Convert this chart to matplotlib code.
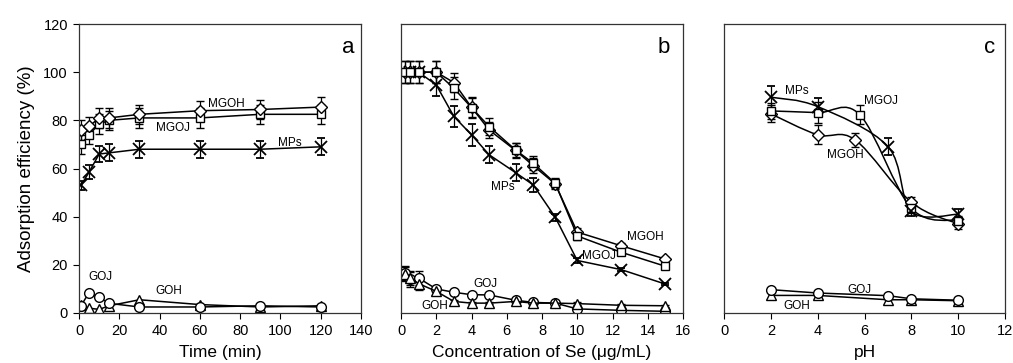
import numpy as np
import matplotlib
matplotlib.use("Agg")
import matplotlib.pyplot as plt
from matplotlib.path import Path
from matplotlib.patches import PathPatch

plt.rcParams['font.family'] = ['Liberation Sans', 'DejaVu Sans']

# ---- panel a: time ----
t_min = [1, 5, 10, 15, 30, 60, 90, 120]
a_mgoh = [76, 77.5, 81, 81, 82.5, 84, 84.5, 85.5]
a_mgoh_err = [4, 4, 4, 4, 4, 4, 4, 4]
a_mgoj = [70, 74, 78.5, 80, 81, 81, 82.5, 82.5]
a_mgoj_err = [4, 4, 4, 4, 4, 4, 4, 4]
a_mps = [53, 58.5, 66, 66.5, 68, 68, 68, 69]
a_mps_err = [2, 3, 3.5, 3.5, 3.5, 3.5, 3.5, 3.5]
a_goj = [3, 8.5, 6.5, 4, 2.5, 2.5, 3, 2.5]
a_goh = [3.5, 2, 1.5, 3, 5.5, 3.5, 2.5, 3]

# ---- panel b: Se concentration ----
conc = [0.2, 0.5, 1, 2, 3, 4, 5, 6.5, 7.5, 8.75, 10, 12.5, 15]
b_mgoh = [100, 100, 100, 100, 95.7, 85.4, 76, 67.5, 61.2, 53.6, 33.6, 27.9, 22.4]
b_mgoh_err = [4.7, 4.7, 4.7, 4.7, 4, 4, 3.5, 3, 3, 2, 1.5, 1, 1]
b_mgoj = [100, 100, 100, 100, 93.3, 85.3, 77.4, 67.7, 62.2, 53.9, 32, 25.2, 19.4]
b_mgoj_err = [4.7, 4.7, 4.7, 4.7, 4.5, 4.5, 3.5, 3, 3, 2, 1.5, 1, 1]
b_mps = [100, 100, 100, 94.7, 81.6, 74, 65.7, 58.3, 53.2, 39.8, 21.8, 18, 12]
b_mps_err = [0, 0, 0, 4.5, 4.5, 4.5, 3.5, 3.5, 3, 1.5, 1, 0.5, 0.5]
b_goj = [16.5, 14, 14.5, 10, 8.6, 7.6, 7.5, 5.3, 4.4, 4.1, 1.7, 1.1, 0.7]
b_goj_err = [3, 3, 3, 1, 1, 0.5, 0.5, 0.5, 0.5, 0.5, 0.5, 0.5, 0.5]
b_goh = [16.3, 14.5, 12.2, 9, 4.8, 4.1, 4.1, 4.8, 4.1, 4.1, 3.9, 3.2, 3]
b_goh_err = [3, 3, 2.5, 1, 0.5, 0.5, 0.5, 0.5, 0.5, 0.5, 0.5, 0.5, 0.5]

# ---- panel c: pH ----
c_mps_x = [2, 4, 7, 8, 10]
c_mps = [89.6, 85.7, 69.1, 42.2, 41]
c_mps_err = [4.7, 3.5, 3.5, 2, 2]
c_mgoj_x = [2, 4, 5.8, 8, 10]
c_mgoj = [83.9, 83.2, 82.3, 43.5, 38.4]
c_mgoj_err = [3.5, 4.5, 4, 2, 2]
c_mgoh_x = [2, 4, 5.6, 8, 10]
c_mgoh = [82.7, 74, 71.9, 46, 37]
c_mgoh_err = [3.5, 4, 3, 2, 2]
c_go_x = [2, 4, 7, 8, 10]
c_goj = [9.7, 8.3, 7.2, 5.9, 5.3]
c_goh = [7.3, 7.3, 5.5, 5.5, 5.1]

MK = dict(mfc="white", mec="black", color="black", lw=1.1, mew=1.0,
          ecolor="black", elinewidth=0.9, capsize=3, capthick=0.9)
NOTE = dict(fontsize=8.5, ha="center", va="center")


def series(ax, x, y, err, marker, ms, line=True, **kw):
    style = dict(MK)
    style.update(kw)
    if not line:
        style["ls"] = "none"
    ax.errorbar(x, y, yerr=err, marker=marker, ms=ms, **style)


def smooth(ax, x, y):
    # Catmull-Rom curve through the points, drawn as bezier path
    pts = np.column_stack([x, y]).astype(float)
    verts = [pts[0]]
    codes = [Path.MOVETO]
    n = len(pts)
    for i in range(n - 1):
        p0 = pts[i - 1] if i > 0 else pts[i]
        p1, p2 = pts[i], pts[i + 1]
        p3 = pts[i + 2] if i + 2 < n else p2
        verts += [p1 + (p2 - p0) / 6, p2 - (p3 - p1) / 6, p2]
        codes += [Path.CURVE4] * 3
    ax.add_patch(PathPatch(Path(verts, codes), fc="none", ec="black", lw=1.1))


fig = plt.figure(figsize=(10.13, 3.63), dpi=100)
W = 282 / 1013
H = 289 / 363
B = 1 - 313 / 363
ax_a = fig.add_axes([79 / 1013, B, W, H])
ax_b = fig.add_axes([401 / 1013, B, W, H])
ax_c = fig.add_axes([724 / 1013, B, 281 / 1013, H])

# panel a
series(ax_a, t_min, a_mgoj, a_mgoj_err, "s", 5.5)
series(ax_a, t_min, a_mgoh, a_mgoh_err, "D", 6)
series(ax_a, t_min, a_mps, a_mps_err, "x", 8, mew=1.3)
series(ax_a, t_min, a_goh, None, "^", 6.5)
series(ax_a, t_min, a_goj, None, "o", 7)
ax_a.set_xlim(0, 140)
ax_a.set_xticks(range(0, 141, 20))
ax_a.set_ylabel("Adsorption efficiency (%)", fontsize=13.5, labelpad=6)
ax_a.set_xlabel("Time (min)", fontsize=12.5, labelpad=5)
ax_a.text(73, 86.8, "MGOH", **NOTE)
ax_a.text(46.6, 76.8, "MGOJ", **NOTE)
ax_a.text(104.6, 70.6, "MPs", **NOTE)
ax_a.text(10.7, 15, "GOJ", **NOTE)
ax_a.text(44.7, 9.3, "GOH", **NOTE)

# panel b
series(ax_b, conc, b_mps, b_mps_err, "x", 8, mew=1.3)
series(ax_b, conc, b_mgoh, b_mgoh_err, "D", 6)
series(ax_b, conc, b_mgoj, b_mgoj_err, "s", 5.5)
series(ax_b, conc, b_goj, b_goj_err, "o", 7)
series(ax_b, conc, b_goh, b_goh_err, "^", 6.5)
ax_b.set_xlim(0, 16)
ax_b.set_xticks(range(0, 17, 2))
ax_b.set_xlabel("Concentration of Se (\u03bcg/mL)", fontsize=12.5, labelpad=5)
ax_b.text(5.78, 52.4, "MPs", **NOTE)
ax_b.text(13.86, 31.5, "MGOH", **NOTE)
ax_b.text(11.25, 23.7, "MGOJ", **NOTE)
ax_b.text(4.78, 12, "GOJ", **NOTE)
ax_b.text(1.94, 3, "GOH", **NOTE)

# panel c
for xs, ys in [(c_mps_x, c_mps), (c_mgoj_x, c_mgoj), (c_mgoh_x, c_mgoh)]:
    smooth(ax_c, xs, ys)
series(ax_c, c_mgoh_x, c_mgoh, c_mgoh_err, "D", 6, line=False)
series(ax_c, c_mgoj_x, c_mgoj, c_mgoj_err, "s", 5.5, line=False)
series(ax_c, c_mps_x, c_mps, c_mps_err, "x", 8, line=False, mew=1.3)
series(ax_c, c_go_x, c_goh, None, "^", 6.5)
series(ax_c, c_go_x, c_goj, None, "o", 7)
ax_c.set_xlim(0, 12)
ax_c.set_xticks(range(0, 13, 2))
ax_c.set_xlabel("pH", fontsize=12.5, labelpad=5)
ax_c.text(3.1, 92.3, "MPs", **NOTE)
ax_c.text(6.7, 88.2, "MGOJ", **NOTE)
ax_c.text(5.2, 65.6, "MGOH", **NOTE)
ax_c.text(5.77, 9.5, "GOJ", **NOTE)
ax_c.text(3.1, 2.9, "GOH", **NOTE)

for ax, letter, lx in [(ax_a, "a", 0.954), (ax_b, "b", 0.93), (ax_c, "c", 0.947)]:
    ax.set_ylim(0, 120)
    ax.text(lx, 0.917, letter, transform=ax.transAxes, fontsize=16,
            ha="center", va="center")
    ax.tick_params(direction="out", length=4, labelsize=10.5, width=0.8, pad=4)
    for sp in ax.spines.values():
        sp.set_linewidth(0.9)
        sp.set_color("#333333")

ax_a.set_yticks(range(0, 121, 20))
ax_b.set_yticks([])
ax_c.set_yticks([])

fig.savefig("out.png", dpi=100)
